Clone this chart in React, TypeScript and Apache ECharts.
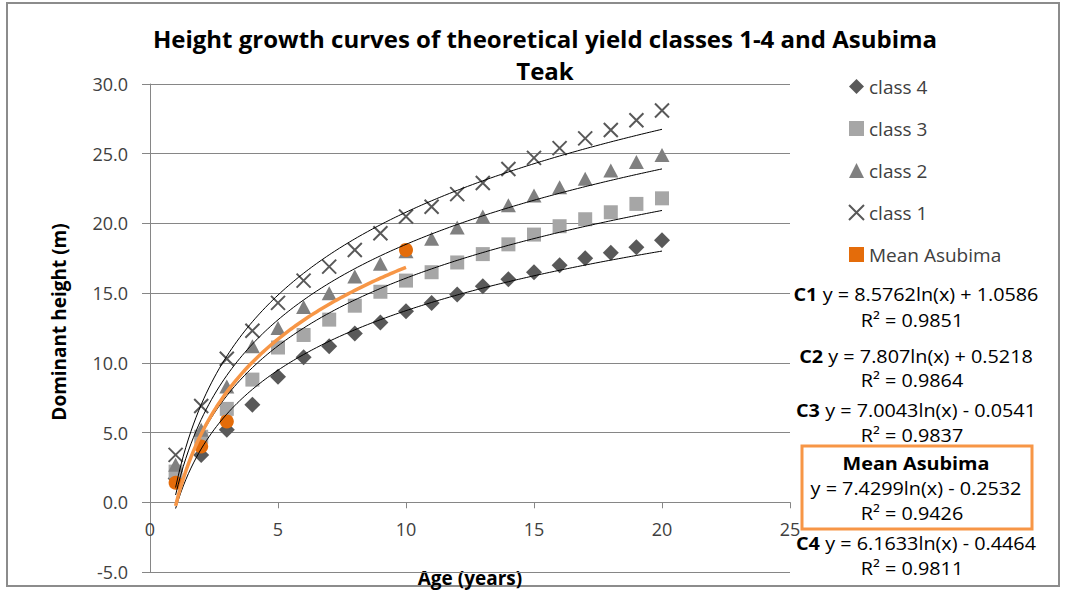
import React, { useEffect, useRef } from "react";
import * as echarts from "echarts";

const FONT = "'Open Sans', 'Noto Sans', sans-serif";

const ages = [1, 2, 3, 4, 5, 6, 7, 8, 9, 10, 11, 12, 13, 14, 15, 16, 17, 18, 19, 20];
const class1 = [3.4, 6.9, 10.3, 12.3, 14.3, 15.9, 16.9, 18.1, 19.3, 20.5, 21.2, 22.1, 22.9, 23.9, 24.7, 25.4, 26.1, 26.7, 27.4, 28.1];
const class2 = [2.7, 5.2, 8.3, 11.2, 12.5, 14.0, 15.0, 16.2, 17.1, 18.0, 18.9, 19.7, 20.5, 21.3, 22.0, 22.6, 23.2, 23.8, 24.4, 24.9];
const class3 = [2.2, 4.7, 6.7, 8.8, 11.1, 12.0, 13.1, 14.1, 15.1, 15.9, 16.5, 17.2, 17.8, 18.5, 19.2, 19.8, 20.3, 20.8, 21.4, 21.8];
const class4 = [1.7, 3.4, 5.2, 7.0, 9.0, 10.4, 11.2, 12.1, 12.9, 13.7, 14.3, 14.9, 15.5, 16.0, 16.5, 17.0, 17.5, 17.9, 18.3, 18.8];
const meanAges = [1, 2, 3, 10];
const meanHeights = [1.4, 4.0, 5.8, 18.1];

// Trendline equations printed on the chart: y = a ln(x) + b
const trendNames = ["C1", "C2", "C3", "C4"];
const trendA = [8.5762, 7.807, 7.0043, 6.1633];
const trendB = [1.0586, 0.5218, -0.0541, -0.4464];
const trendR2 = ["0.9851", "0.9864", "0.9837", "0.9811"];
const meanA = 7.4299;
const meanB = -0.2532;
const meanR2 = "0.9426";

const yTicks = [-5, 0, 5, 10, 15, 20, 25, 30];

const CROSS = "path://M0,0L10,10M10,0L0,10";

// grid geometry
const GRID_TOP = 84;
const GRID_BOTTOM_PX = 572;
const Y_MIN = -5;
const Y_MAX = 30;

function trend(a: number, b: number, x0: number, x1: number) {
  const pts: number[][] = [];
  for (let x = x0; x <= x1 + 1e-9; x += 0.1) {
    pts.push([x, a * Math.log(x) + b]);
  }
  return pts;
}

function eqText(a: number, b: number) {
  return `y = ${a}ln(x) ${b >= 0 ? "+" : "-"} ${Math.abs(b)}`;
}

export default function App() {
  const ref = useRef<HTMLDivElement>(null);
  useEffect(() => {
    if (!ref.current) return;
    const chart = echarts.init(ref.current, undefined, { renderer: "svg" });
    const pair = (ys: number[], xs: number[] = ages) => xs.map((x, i) => [x, ys[i]]);
    const zeroOffset = ((0 - Y_MIN) / (Y_MAX - Y_MIN)) * (GRID_BOTTOM_PX - GRID_TOP);

    const EQ_FS = 18;
    const SX = 1.1;
    const eqY = [294, 356, 410, 543];
    const r2Y = [320, 380, 435, 568];
    const graphics: any[] = [
      {
        type: "rect",
        shape: { x: 7, y: 3, width: 1052, height: 583 },
        style: { fill: "none", stroke: "#8c8c8c", lineWidth: 2 },
        silent: true,
      },
      {
        type: "text",
        x: 545,
        y: 38,
        style: {
          text: "Height growth curves of theoretical yield classes 1-4 and Asubima",
          font: `bold 24px ${FONT}`,
          fill: "#000",
          textAlign: "center",
          textVerticalAlign: "middle",
        },
      },
      {
        type: "text",
        x: 545,
        y: 70,
        style: { text: "Teak", font: `bold 24px ${FONT}`, fill: "#000", textAlign: "center", textVerticalAlign: "middle" },
      },
      {
        type: "text",
        x: 59,
        y: 322,
        rotation: Math.PI / 2,
        style: { text: "Dominant height (m)", font: `bold 19px ${FONT}`, fill: "#000", textAlign: "center", textVerticalAlign: "middle" },
      },
      {
        type: "text",
        x: 470,
        y: 578,
        style: { text: "Age (years)", font: `bold 19px ${FONT}`, fill: "#000", textAlign: "center", textVerticalAlign: "middle" },
      },
    ];
    trendNames.forEach((n, i) => {
      graphics.push({
        type: "text",
        x: 916,
        y: eqY[i],
        scaleX: SX,
        z: 10,
        style: {
          text: `{b|${n}} ${eqText(trendA[i], trendB[i])}`,
          fontSize: EQ_FS,
          fontFamily: FONT,
          fill: "#000",
          textAlign: "center",
          textVerticalAlign: "middle",
          rich: { b: { fontWeight: "bold", fontSize: EQ_FS, fontFamily: FONT, fill: "#000" } },
        },
      });
      graphics.push({
        type: "text",
        x: 912,
        y: r2Y[i],
        scaleX: SX,
        z: 10,
        style: { text: `R² = ${trendR2[i]}`, font: `${EQ_FS}px ${FONT}`, fill: "#000", textAlign: "center", textVerticalAlign: "middle" },
      });
    });
    graphics.push({
      type: "rect",
      z: 9,
      shape: { x: 802, y: 446, width: 230, height: 83 },
      style: { fill: "#fff", stroke: "#F79646", lineWidth: 3 },
    });
    graphics.push({
      type: "text", x: 916, y: 463, z: 10, scaleX: SX,
      style: { text: "Mean Asubima", font: `bold ${EQ_FS}px ${FONT}`, fill: "#000", textAlign: "center", textVerticalAlign: "middle" },
    });
    graphics.push({
      type: "text", x: 916, y: 488, z: 10, scaleX: SX,
      style: { text: eqText(meanA, meanB), font: `${EQ_FS}px ${FONT}`, fill: "#000", textAlign: "center", textVerticalAlign: "middle" },
    });
    graphics.push({
      type: "text", x: 912, y: 513, z: 10, scaleX: SX,
      style: { text: `R² = ${meanR2}`, font: `${EQ_FS}px ${FONT}`, fill: "#000", textAlign: "center", textVerticalAlign: "middle" },
    });

    const trendSeries = trendNames.map((n, i) => ({
      name: `${n} trend`,
      type: "line",
      data: trend(trendA[i], trendB[i], 1, 20),
      showSymbol: false,
      symbol: "none",
      silent: true,
      lineStyle: { color: "#000", width: 1 },
      z: 3,
    }));

    chart.setOption({
      animation: false,
      textStyle: { fontFamily: FONT },
      grid: {
        left: 150,
        right: 276,
        top: GRID_TOP,
        bottom: 590 - GRID_BOTTOM_PX,
        containLabel: false,
        outerBoundsMode: "none",
      },
      xAxis: {
        type: "value",
        min: 0,
        max: 25,
        interval: 5,
        position: "bottom",
        offset: -zeroOffset,
        axisLine: { onZero: false, lineStyle: { color: "#868686" } },
        axisTick: { show: true, inside: false, length: 6, lineStyle: { color: "#868686" } },
        axisLabel: { fontSize: 18, color: "#404040", margin: 18, fontFamily: FONT },
        splitLine: { show: false },
      },
      yAxis: {
        type: "value",
        min: Y_MIN,
        max: Y_MAX,
        interval: 5,
        axisLine: { show: true, onZero: false, lineStyle: { color: "#868686" } },
        axisTick: { show: true, inside: false, length: 8, lineStyle: { color: "#868686" } },
        axisLabel: {
          fontSize: 18,
          color: "#404040",
          margin: 22,
          fontFamily: FONT,
          formatter: (v: number) => (yTicks.includes(v) ? v.toFixed(1) : ""),
        },
        splitLine: { show: true, lineStyle: { color: "#868686", width: 1 } },
      },
      legend: {
        orient: "vertical",
        left: 843,
        top: 72,
        itemWidth: 15,
        itemHeight: 15,
        itemGap: 23,
        textStyle: { fontSize: 19, color: "#404040", fontFamily: FONT },
        data: [
          { name: "class 4", icon: "diamond" },
          { name: "class 3", icon: "rect" },
          { name: "class 2", icon: "triangle" },
          { name: "class 1", icon: CROSS },
          { name: "Mean Asubima", icon: "rect" },
        ],
      },
      graphic: graphics,
      series: [
        {
          name: "class 4",
          type: "scatter",
          data: pair(class4),
          symbol: "diamond",
          symbolSize: [16, 16],
          itemStyle: { color: "#595959", opacity: 1 },
        },
        {
          name: "class 3",
          type: "scatter",
          data: pair(class3),
          symbol: "rect",
          symbolSize: 14,
          itemStyle: { color: "#A6A6A6", opacity: 1 },
        },
        {
          name: "class 2",
          type: "scatter",
          data: pair(class2),
          symbol: "triangle",
          symbolSize: [15, 14],
          itemStyle: { color: "#808080", opacity: 1 },
        },
        {
          name: "class 1",
          type: "scatter",
          data: pair(class1),
          symbol: CROSS,
          symbolSize: 14,
          itemStyle: { color: "rgba(0,0,0,0)", borderColor: "#595959", borderWidth: 2, opacity: 1 },
        },
        {
          name: "Mean Asubima",
          type: "scatter",
          data: pair(meanHeights, meanAges),
          symbol: "circle",
          symbolSize: 14,
          itemStyle: { color: "#E46C0A", opacity: 1 },
        },
        ...trendSeries,
        {
          name: "Mean trend",
          type: "line",
          data: trend(meanA, meanB, 1, 10),
          showSymbol: false,
          symbol: "none",
          silent: true,
          lineStyle: { color: "#F79646", width: 3.5 },
          z: 3,
        },
      ],
    });
    return () => chart.dispose();
  }, []);
  return (
    <div
      ref={ref}
      style={{ position: "absolute", left: 0, top: 0, width: 1066, height: 590, background: "#fff" }}
    />
  );
}
